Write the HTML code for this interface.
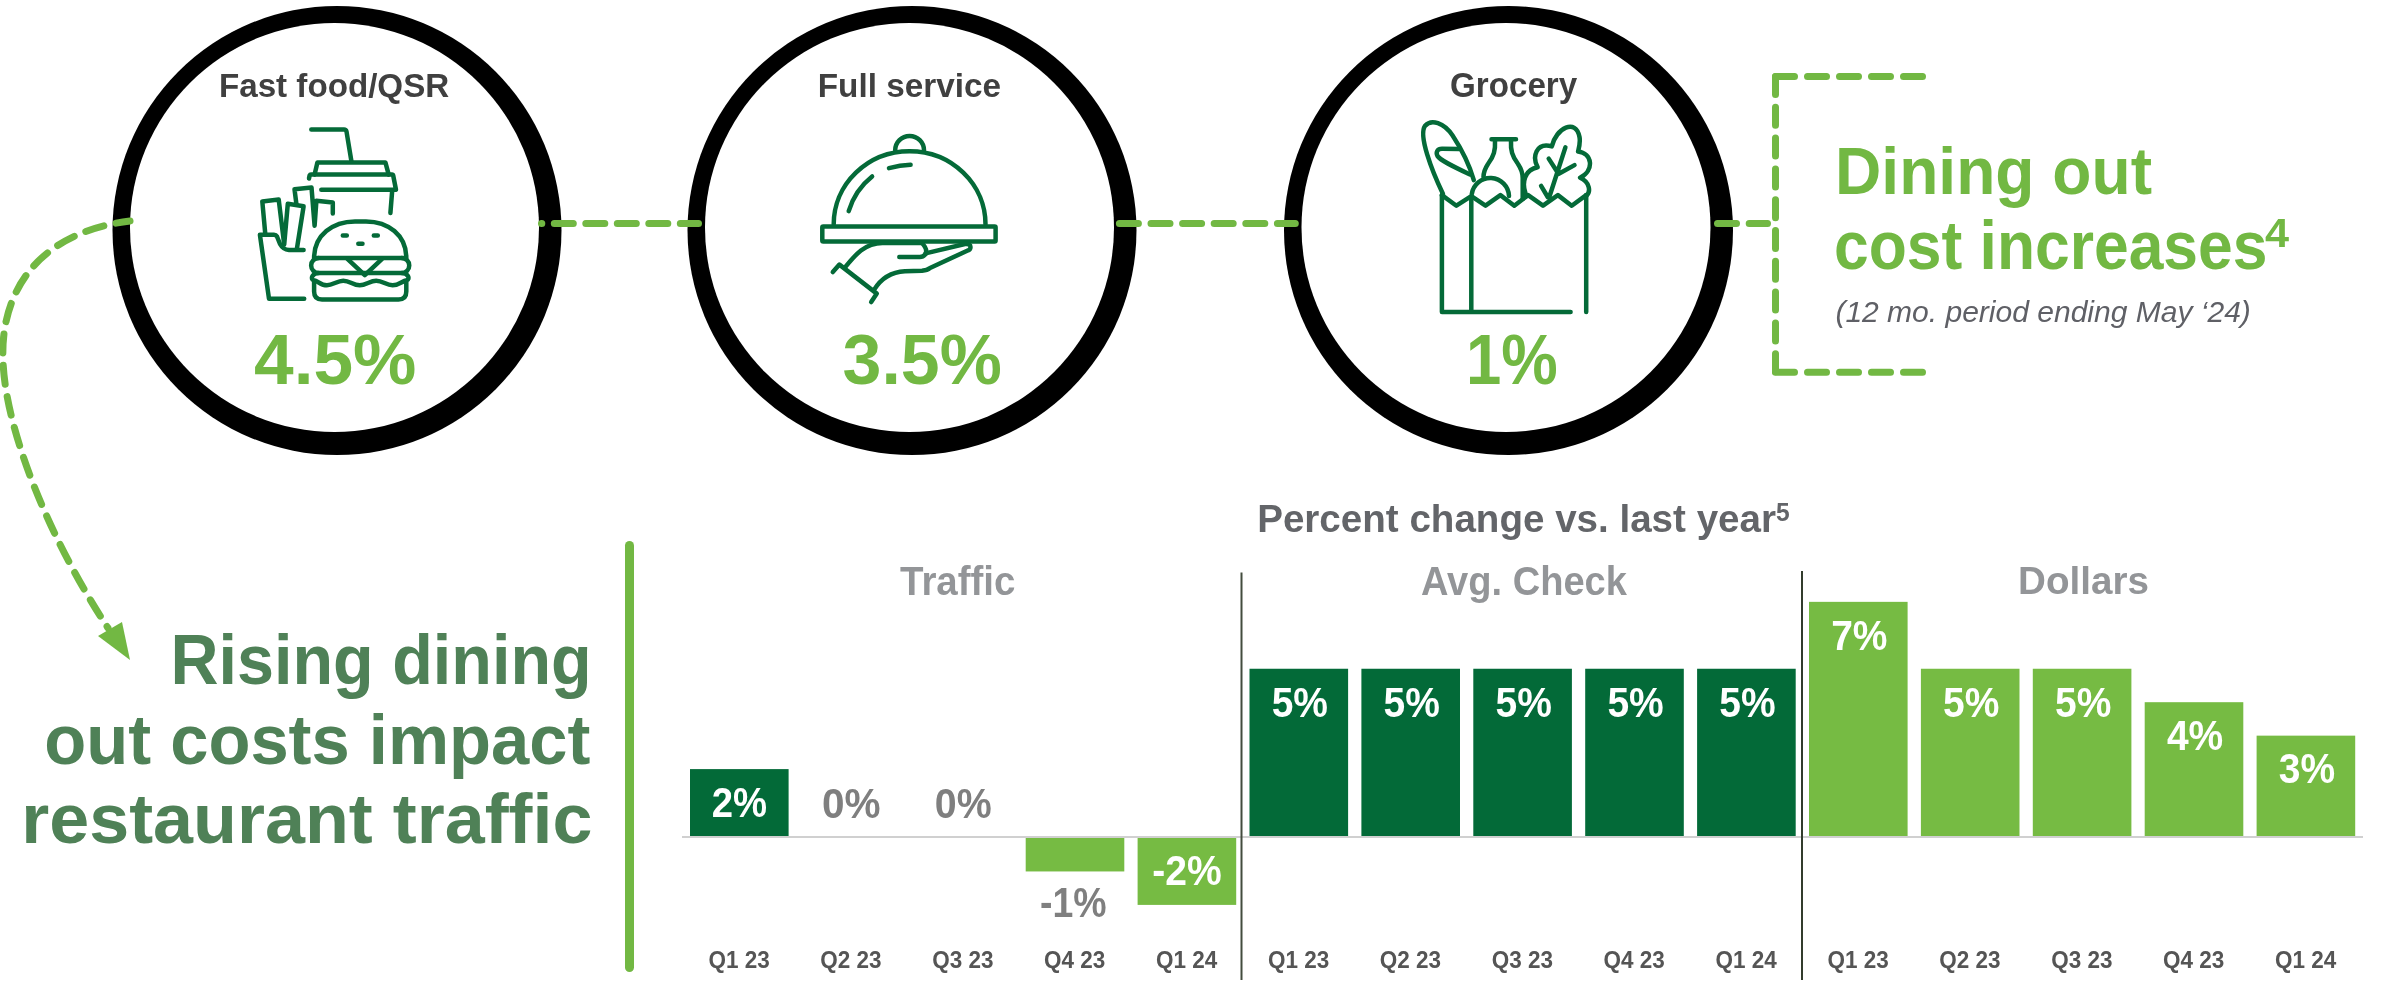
<!DOCTYPE html>
<html><head><meta charset="utf-8">
<style>
html,body{margin:0;padding:0;background:#fff;}
body{width:2384px;height:987px;overflow:hidden;position:relative;}
svg{position:absolute;left:0;top:0;display:block;will-change:transform;}
text{font-family:"Liberation Sans",sans-serif;}
</style></head>
<body>
<svg width="2384" height="987" viewBox="0 0 2384 987">
<circle cx="337" cy="230.5" r="224.5" fill="#000"/><circle cx="334.5" cy="227.5" r="204.5" fill="#fff"/>
<circle cx="912" cy="230.5" r="224.5" fill="#000"/><circle cx="909.5" cy="227.5" r="204.5" fill="#fff"/>
<circle cx="1508.5" cy="230.5" r="224.5" fill="#000"/><circle cx="1506" cy="227.5" r="204.5" fill="#fff"/>
<g fill="none" stroke="#72B843" stroke-width="7" stroke-linecap="round">
<path d="M541.5 223.5 H698.5" stroke-dasharray="19 12.5" stroke-dashoffset="18.7"/>
<path d="M1119.4 223.5 H1295.3" stroke-dasharray="19 12.6"/>
<path d="M1717.5 223.5 H1767.5" stroke-dasharray="19 12.7"/>
<path d="M1775.5 76.5 H1924.5" stroke-dasharray="19 13"/>
<path d="M1775.5 76.5 V372.3" stroke-dasharray="18 12.8"/>
<path d="M1775.5 372.3 H1927.5" stroke-dasharray="19 13"/>
<path d="M130 221 C 40 232, 0 290, 3 360 C 5 430, 50 540, 108 628" stroke-dasharray="19 12.5" stroke-dashoffset="5"/>
</g>
<polygon points="130,660 98,636 122,622" fill="#72B843"/>
<line x1="629.5" y1="545.5" x2="629.5" y2="967.5" stroke="#72B843" stroke-width="9" stroke-linecap="round"/>
<g fill="none" stroke="#046A38" stroke-width="4.5" stroke-linecap="round" stroke-linejoin="round">
<!-- fast food -->
<path d="M311.3,129.5 L344,129.5 Q346,129.5 346.5,131.5 L351.4,161.2"/>
<path d="M314.6,174.6 L317.4,162.4 L385.4,162.4 L388.7,174.6"/>
<path d="M309,178.5 L309.6,175.5 Q310,174.6 311,174.6 L392,174.6 Q393,174.6 393.2,175.5 L396,189.7 L321.3,189.7"/>
<path d="M392.1,191.9 L390.4,213"/>
<path d="M265.3,234.2 L262.3,201.4 L278.7,199.6 L284.2,244.6 L287.8,203.8 L303.6,206.3 L297,248.2"/>
<path d="M296.3,203.2 L294.5,189.3 L311.5,187.4 L314.6,225.7 L316.4,200.8 L332.8,202.6 L332.8,213.6"/>
<path d="M303.6,250 L289,250 Q283,249.5 280,244 L277,236.5 Q276,234.8 274,234.8 L259.9,234.8 L269,298.7 L304.2,298.7"/>
<path d="M314.1,257.9 C314.1,235 333,221.4 355,221.4 L366,221.4 C388,221.4 406.3,235 406.3,257.9 Z"/>
<path d="M342.8,235.5 H346.8 M373.8,235.5 H377.8 M358.3,243.7 H362.5"/>
<path d="M318.7,257.9 A7.5,7.5 0 0 0 318.7,273 H401.7 A7.5,7.5 0 0 0 401.7,257.9"/>
<path d="M347.4,258.8 L364.8,275.2 L382.1,258.8"/>
<path d="M318.7,273 C312.5,273 309.8,279 313.7,280.2 C318,281 321,285.3 326.9,285.3 C333,285.3 337,280.7 343.3,280.7 C350,280.7 353,285.3 359.7,285.3 C366,285.3 370,280.7 376.2,280.7 C383,280.7 386,285.3 392.6,285.3 C399,285.3 402,281 406.7,280.2 C410.6,279 408,273 401.7,273"/>
<path d="M314.1,281.6 V291.4 Q314.1,299.4 322,299.4 H398.5 Q406.3,299.4 406.3,291.4 V281.6"/>
<!-- cloche -->
<path d="M895.2,150.3 A14.4,14.4 0 0 1 924,150.3"/>
<path d="M833.7,224.3 A75.9,73 0 0 1 985.5,224.3"/>
<path d="M848.7,211.2 Q855,190 872.1,176.5 M889,168.1 Q900,165 910.6,164.7"/>
<rect x="822.3" y="226.4" width="173.3" height="15" rx="1"/>
<path d="M845,267.4 C855,255 865,243 882.5,243 L921.8,243 Q928,249 925.5,254.3 Q923,257.1 919.9,257.1 H899.3"/>
<path d="M925.5,253.4 L964.9,244 Q970.5,243.5 970.5,247 Q970.5,250 967.7,250.5 L930,268 Q927.4,270.2 922,270.8 L904.9,271.2 C890,272 880,280 874,289.9"/>
<path d="M832.8,272.1 L839.4,264.6 L876.8,293.6 L871.2,302.1"/>
<!-- grocery -->
<path d="M1471.3,197.2 V312.1 M1441.9,195.1 V312.1 H1570.6 M1586.2,195.1 V312.1"/>
<path d="M1441.9,195.1 L1456.4,205.7 L1471.3,196.2 L1485.5,205.7 L1500.4,195.1 L1514.3,205.7 L1528.1,195.1 L1543,205.7 L1557.9,195.1 L1571.7,205.7 L1586.2,195.1"/>
<path d="M1443,194 C1431.3,169.6 1418.5,135.5 1424.9,126 C1431.3,118.5 1444,122.8 1452.6,135.5 C1461,148.3 1469.6,165.3 1473.8,180.2"/>
<path d="M1470,174.5 C1450,165 1440,160 1437.5,156 C1435.5,152 1437.5,148.7 1442,148.7 L1459,149"/>
<path d="M1471.8,194 A18.7,18.7 0 0 1 1509,196"/>
<path d="M1491.5,139.3 H1516 M1495,140.5 C1495.5,150 1494,156 1488,164 C1484,170 1483.5,173 1483.5,177 M1511,140.5 C1510.5,150 1512,156 1518,164 C1522,170 1522.7,173 1522.7,178 L1522.7,199"/>
<path d="M1525.4,193 C1522,183 1524,170 1537.6,167.2 C1532,157 1536,142 1551.8,146.4 C1556,128 1576,118 1579.5,137 C1580.5,142 1579,148 1578.1,151.5 C1592,153 1595,170 1580.1,177.8 C1590,182 1591,192 1586.2,196"/>
<path d="M1565.4,147.4 L1549,198 M1548.7,158.6 L1557.8,172.7 M1574.5,165.1 L1558.8,173.8 M1541.1,185.9 L1547.7,197"/>
</g>
<rect x="682" y="836" width="1681" height="2" fill="#D0D0D0"/>
<rect x="1240.5" y="572.5" width="2" height="407.5" fill="#434C3E"/>
<rect x="1801" y="571" width="2" height="409" fill="#323C2D"/>
<rect x="690.00" y="769.10" width="98.6" height="66.90" fill="#036A38"/>
<rect x="1025.70" y="838" width="98.6" height="33.45" fill="#76BB43"/>
<rect x="1137.60" y="838" width="98.6" height="66.90" fill="#76BB43"/>
<rect x="1249.50" y="668.75" width="98.6" height="167.25" fill="#036A38"/>
<rect x="1361.40" y="668.75" width="98.6" height="167.25" fill="#036A38"/>
<rect x="1473.30" y="668.75" width="98.6" height="167.25" fill="#036A38"/>
<rect x="1585.20" y="668.75" width="98.6" height="167.25" fill="#036A38"/>
<rect x="1697.10" y="668.75" width="98.6" height="167.25" fill="#036A38"/>
<rect x="1809.00" y="601.85" width="98.6" height="234.15" fill="#76BB43"/>
<rect x="1920.90" y="668.75" width="98.6" height="167.25" fill="#76BB43"/>
<rect x="2032.80" y="668.75" width="98.6" height="167.25" fill="#76BB43"/>
<rect x="2144.70" y="702.20" width="98.6" height="133.80" fill="#76BB43"/>
<rect x="2256.60" y="735.65" width="98.6" height="100.35" fill="#76BB43"/>
<text x="711.80" y="816.90" font-size="42.61" font-weight="bold" fill="#ffffff" textLength="55.36" lengthAdjust="spacingAndGlyphs">2%</text>
<text x="1271.70" y="716.55" font-size="42.05" font-weight="bold" fill="#ffffff" textLength="56.33" lengthAdjust="spacingAndGlyphs">5%</text>
<text x="1383.60" y="716.55" font-size="42.05" font-weight="bold" fill="#ffffff" textLength="56.33" lengthAdjust="spacingAndGlyphs">5%</text>
<text x="1495.50" y="716.55" font-size="42.05" font-weight="bold" fill="#ffffff" textLength="56.33" lengthAdjust="spacingAndGlyphs">5%</text>
<text x="1607.40" y="716.55" font-size="42.05" font-weight="bold" fill="#ffffff" textLength="56.33" lengthAdjust="spacingAndGlyphs">5%</text>
<text x="1719.30" y="716.55" font-size="42.05" font-weight="bold" fill="#ffffff" textLength="56.33" lengthAdjust="spacingAndGlyphs">5%</text>
<text x="1831.20" y="649.65" font-size="42.05" font-weight="bold" fill="#ffffff" textLength="56.33" lengthAdjust="spacingAndGlyphs">7%</text>
<text x="1943.10" y="716.55" font-size="42.05" font-weight="bold" fill="#ffffff" textLength="56.33" lengthAdjust="spacingAndGlyphs">5%</text>
<text x="2055.00" y="716.55" font-size="42.05" font-weight="bold" fill="#ffffff" textLength="56.33" lengthAdjust="spacingAndGlyphs">5%</text>
<text x="2166.90" y="750.00" font-size="42.05" font-weight="bold" fill="#ffffff" textLength="56.33" lengthAdjust="spacingAndGlyphs">4%</text>
<text x="2278.80" y="783.45" font-size="42.05" font-weight="bold" fill="#ffffff" textLength="56.33" lengthAdjust="spacingAndGlyphs">3%</text>
<text x="1152.20" y="884.80" font-size="42.05" font-weight="bold" fill="#ffffff" textLength="69.42" lengthAdjust="spacingAndGlyphs">-2%</text>
<text x="822.00" y="817.80" font-size="42.61" font-weight="bold" fill="#7F7F7F" textLength="58.60" lengthAdjust="spacingAndGlyphs">0%</text>
<text x="934.80" y="817.80" font-size="42.61" font-weight="bold" fill="#7F7F7F" textLength="56.82" lengthAdjust="spacingAndGlyphs">0%</text>
<text x="1040.00" y="916.70" font-size="42.90" font-weight="bold" fill="#7F7F7F" textLength="66.62" lengthAdjust="spacingAndGlyphs">-1%</text>
<text x="708.40" y="967.80" font-size="23.78" font-weight="bold" fill="#555555" textLength="61.26" lengthAdjust="spacingAndGlyphs">Q1 23</text>
<text x="820.30" y="967.80" font-size="23.78" font-weight="bold" fill="#555555" textLength="61.26" lengthAdjust="spacingAndGlyphs">Q2 23</text>
<text x="932.20" y="967.80" font-size="23.78" font-weight="bold" fill="#555555" textLength="61.26" lengthAdjust="spacingAndGlyphs">Q3 23</text>
<text x="1044.10" y="967.80" font-size="23.78" font-weight="bold" fill="#555555" textLength="61.26" lengthAdjust="spacingAndGlyphs">Q4 23</text>
<text x="1156.00" y="967.80" font-size="23.78" font-weight="bold" fill="#555555" textLength="61.26" lengthAdjust="spacingAndGlyphs">Q1 24</text>
<text x="1267.90" y="967.80" font-size="23.78" font-weight="bold" fill="#555555" textLength="61.26" lengthAdjust="spacingAndGlyphs">Q1 23</text>
<text x="1379.80" y="967.80" font-size="23.78" font-weight="bold" fill="#555555" textLength="61.26" lengthAdjust="spacingAndGlyphs">Q2 23</text>
<text x="1491.70" y="967.80" font-size="23.78" font-weight="bold" fill="#555555" textLength="61.26" lengthAdjust="spacingAndGlyphs">Q3 23</text>
<text x="1603.60" y="967.80" font-size="23.78" font-weight="bold" fill="#555555" textLength="61.26" lengthAdjust="spacingAndGlyphs">Q4 23</text>
<text x="1715.50" y="967.80" font-size="23.78" font-weight="bold" fill="#555555" textLength="61.26" lengthAdjust="spacingAndGlyphs">Q1 24</text>
<text x="1827.40" y="967.80" font-size="23.78" font-weight="bold" fill="#555555" textLength="61.26" lengthAdjust="spacingAndGlyphs">Q1 23</text>
<text x="1939.30" y="967.80" font-size="23.78" font-weight="bold" fill="#555555" textLength="61.26" lengthAdjust="spacingAndGlyphs">Q2 23</text>
<text x="2051.20" y="967.80" font-size="23.78" font-weight="bold" fill="#555555" textLength="61.26" lengthAdjust="spacingAndGlyphs">Q3 23</text>
<text x="2163.10" y="967.80" font-size="23.78" font-weight="bold" fill="#555555" textLength="61.26" lengthAdjust="spacingAndGlyphs">Q4 23</text>
<text x="2275.00" y="967.80" font-size="23.78" font-weight="bold" fill="#555555" textLength="61.26" lengthAdjust="spacingAndGlyphs">Q1 24</text>
<text x="219.00" y="96.80" font-size="33.00" font-weight="bold" fill="#404040" textLength="230.19" lengthAdjust="spacingAndGlyphs">Fast food/QSR</text>
<text x="817.80" y="96.90" font-size="33.28" font-weight="bold" fill="#404040" textLength="183.11" lengthAdjust="spacingAndGlyphs">Full service</text>
<text x="1450.00" y="96.70" font-size="35.04" font-weight="bold" fill="#404040" textLength="127.18" lengthAdjust="spacingAndGlyphs">Grocery</text>
<text x="254.00" y="384.00" font-size="70.03" font-weight="bold" fill="#72B843" textLength="162.45" lengthAdjust="spacingAndGlyphs">4.5%</text>
<text x="842.60" y="384.00" font-size="70.03" font-weight="bold" fill="#72B843" textLength="159.23" lengthAdjust="spacingAndGlyphs">3.5%</text>
<text x="1466.00" y="384.00" font-size="70.03" font-weight="bold" fill="#72B843" textLength="91.77" lengthAdjust="spacingAndGlyphs">1%</text>
<text x="1835.00" y="193.70" font-size="66.00" font-weight="bold" fill="#72B843" textLength="317.12" lengthAdjust="spacingAndGlyphs">Dining out</text>
<text x="1834.00" y="269.00" font-size="68.78" font-weight="bold" fill="#72B843" textLength="433.42" lengthAdjust="spacingAndGlyphs">cost increases</text>
<text x="2265.00" y="246.90" font-size="40.88" font-weight="bold" fill="#72B843" textLength="24.03" lengthAdjust="spacingAndGlyphs">4</text>
<text x="1835.40" y="322.00" font-size="30.00" font-weight="normal" fill="#5F6066" font-style="italic" textLength="415.44" lengthAdjust="spacingAndGlyphs">(12 mo. period ending May ‘24)</text>
<text x="170.40" y="684.20" font-size="70.28" font-weight="bold" fill="#4F8157" textLength="421.27" lengthAdjust="spacingAndGlyphs">Rising dining</text>
<text x="44.20" y="764.00" font-size="70.25" font-weight="bold" fill="#4F8157" textLength="546.21" lengthAdjust="spacingAndGlyphs">out costs impact</text>
<text x="21.20" y="843.40" font-size="69.76" font-weight="bold" fill="#4F8157" textLength="571.33" lengthAdjust="spacingAndGlyphs">restaurant traffic</text>
<text x="1257.20" y="531.80" font-size="38.01" font-weight="bold" fill="#636569" textLength="518.81" lengthAdjust="spacingAndGlyphs">Percent change vs. last year</text>
<text x="1776.00" y="520.80" font-size="25.14" font-weight="bold" fill="#636569" textLength="13.69" lengthAdjust="spacingAndGlyphs">5</text>
<text x="900.00" y="594.80" font-size="40.22" font-weight="bold" fill="#939598" textLength="115.46" lengthAdjust="spacingAndGlyphs">Traffic</text>
<text x="1421.00" y="594.70" font-size="40.79" font-weight="bold" fill="#939598" textLength="205.88" lengthAdjust="spacingAndGlyphs">Avg. Check</text>
<text x="2018.00" y="593.90" font-size="38.00" font-weight="bold" fill="#939598" textLength="130.89" lengthAdjust="spacingAndGlyphs">Dollars</text>
</svg>
</body></html>
